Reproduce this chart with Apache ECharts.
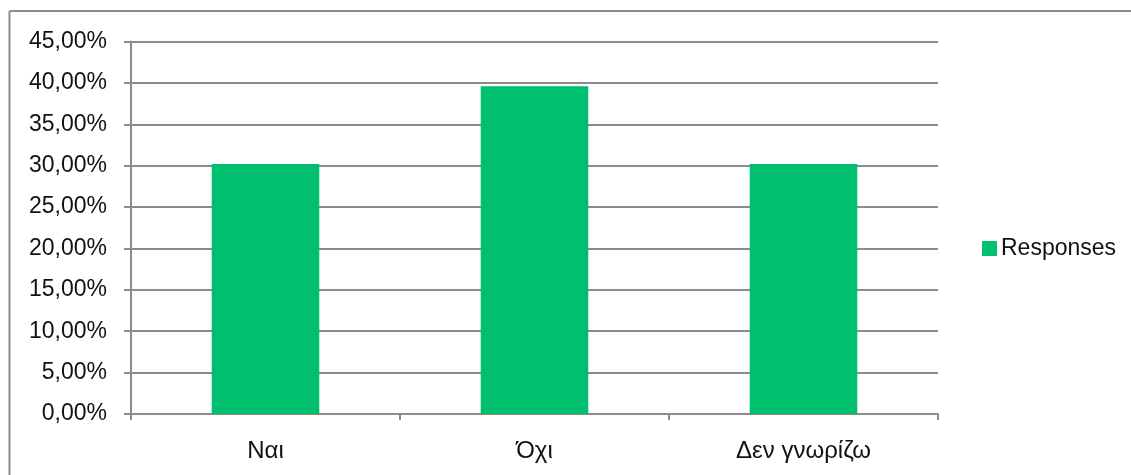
<!DOCTYPE html>
<html>
<head>
<meta charset="utf-8">
<script src="https://cdn.jsdelivr.net/npm/echarts@6/dist/echarts.min.js"></script>
<style>
html,body{margin:0;padding:0;background:#fff;}
#c{width:1131px;height:475px;}
</style>
</head>
<body>
<div id="c"></div>
<script>
const categories = ['Ναι', 'Όχι', 'Δεν γνωρίζω'];
const responses = [30.2, 39.6, 30.2];
const seriesName = 'Responses';

const chart = echarts.init(document.getElementById('c'), null, {renderer: 'canvas'});
const fontFamily = '"Liberation Sans", Arial, sans-serif';
const gridColor = '#8c8c8c';
const textColor = '#111111';
chart.setOption({
  animation: false,
  backgroundColor: '#ffffff',
  textStyle: {fontFamily: fontFamily},
  graphic: [
    {type: 'line', shape: {x1: 9.5, y1: 11, x2: 1131, y2: 11}, style: {stroke: '#8c8c8c', lineWidth: 2}},
    {type: 'line', shape: {x1: 9.5, y1: 11, x2: 9.5, y2: 475}, style: {stroke: '#8c8c8c', lineWidth: 2}}
  ],
  legend: {
    data: [seriesName],
    left: 977, top: 232,
    orient: 'vertical',
    itemWidth: 15, itemHeight: 15, itemGap: 8,
    icon: 'rect',
    textStyle: {fontFamily: fontFamily, fontSize: 23, color: textColor, padding: [0,0,0,-1]}
  },
  grid: {left: 131, right: 193, top: 41.5, bottom: 61, containLabel: false},
  xAxis: {
    type: 'category',
    data: categories,
    axisLine: {lineStyle: {color: gridColor, width: 2}},
    axisTick: {show: true, alignWithLabel: false, length: 6, lineStyle: {color: gridColor, width: 2}},
    axisLabel: {fontFamily: fontFamily, fontSize: 24, color: textColor, margin: 25},
    splitLine: {show: false}
  },
  yAxis: {
    type: 'value',
    min: 0, max: 45, interval: 5,
    axisLine: {show: true, lineStyle: {color: gridColor, width: 2}},
    axisTick: {show: true, length: 7, lineStyle: {color: gridColor, width: 2}},
    axisLabel: {
      fontFamily: fontFamily, fontSize: 23, color: textColor, margin: 24,
      formatter: v => v.toFixed(2).replace('.', ',') + '%'
    },
    splitLine: {lineStyle: {color: gridColor, width: 2}}
  },
  series: [{
    name: seriesName,
    type: 'bar',
    data: responses,
    barWidth: '40%',
    itemStyle: {color: '#00bf6f'}
  }]
});
</script>
</body>
</html>
